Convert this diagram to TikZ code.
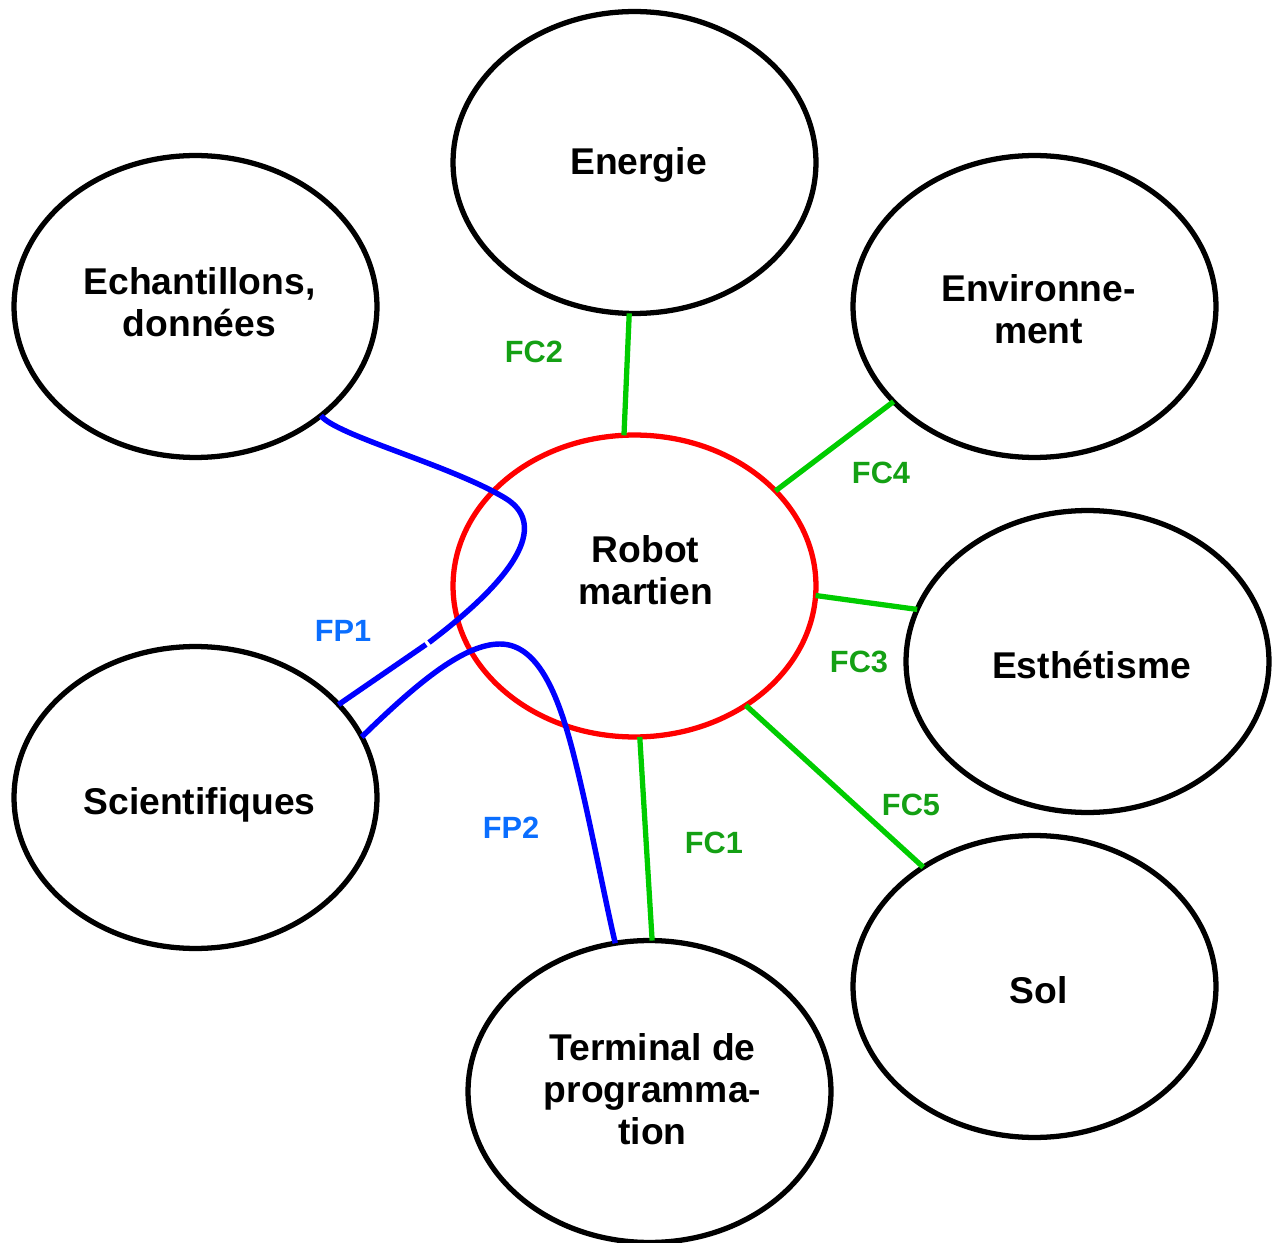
\documentclass[tikz,border=0pt]{standalone}
\usepackage{fontspec}
\setmainfont{Liberation Sans}
\usetikzlibrary{shapes.geometric}
\definecolor{lgreen}{RGB}{0,204,0}
\definecolor{tgreen}{RGB}{20,160,20}
\definecolor{tblue}{RGB}{10,110,255}
\tikzset{
  ell/.style={ellipse,draw=black,line width=3pt,minimum width=7.26cm,minimum height=6.04cm,inner sep=0pt,outer sep=0pt},
  robot/.style={ell,draw=red},
  etext/.style={align=center,font=\bfseries\fontsize{21.2}{24}\selectfont},
  fcline/.style={draw=lgreen,line width=3pt},
  fpline/.style={draw=blue,line width=3.1pt},
  fclab/.style={text=tgreen,font=\bfseries\fontsize{17.5}{20}\selectfont},
  fplab/.style={text=tblue,font=\bfseries\fontsize{17.5}{20}\selectfont}
}
\begin{document}
\begin{tikzpicture}[x=0.02cm,y=-0.02cm]
\useasboundingbox (0,0) rectangle (1275,1243);
\node[ell] (energie) at (634.5,162.5) {};
\node[ell] (echant) at (195.5,306.5) {};
\node[ell] (env) at (1034.5,306.5) {};
\node[ell] (esth) at (1087.5,661.5) {};
\node[ell] (sci) at (195.5,797.5) {};
\node[ell] (term) at (649.5,1091.5) {};
\node[ell] (sol) at (1034.5,986.5) {};
\node[robot] (robot) at (634.5,586) {};

\node[etext] (energietxt) at (638.5,164.5) {Energie};
\node[etext] (echanttxt) at (199.5,302.5) {Echantillons,\\données};
\node[etext] (envtxt) at (1038.5,309.5) {Environne-\\ment};
\node[etext] (esthtxt) at (1091.5,665.5) {Esthétisme};
\node[etext] (scitxt) at (199.5,804.5) {Scientifiques};
\node[etext] (termtxt) at (652.5,1089.5) {Terminal de\\programma-\\tion};
\node[etext] (soltxt) at (1038.5,990.5) {Sol};
\node[etext] (robottxt) at (645.5,570) {Robot\\martien};

\draw[fcline] (energie.268.3) -- (robot.94.4);
\draw[fcline] (env.214) -- (robot.34.1);
\draw[fcline] (robot.-3.8) -- (esth.163.8);
\draw[fcline] (robot.-47.1) -- (sol.133.3);
\draw[fcline] (robot.-88.7) -- (term.89.1);

\coordinate (gapA) at (429,642.5);
\coordinate (gapB) at (426,644.5);
\draw[fpline] (echant.-41) .. controls (335,435) and (450,465) .. (505,498)
  .. controls (545,522) and (525,570) .. (gapA);
\draw[fpline] (gapB) -- (sci.33.8);
\draw[fpline] (sci.20.5) .. controls (420,680) and (465,644) .. (500,644)
  .. controls (540,644) and (560,700) .. (575,760)
  .. controls (590,820) and (605,900) .. (term.103.7);

\node[fclab] (fc2) at (534,352) {FC2};
\node[fclab] (fc4) at (881,473) {FC4};
\node[fclab] (fc3) at (859,662) {FC3};
\node[fclab] (fc5) at (911,805) {FC5};
\node[fclab] (fc1) at (714,843) {FC1};
\node[fplab] (fp1) at (343,631) {FP1};
\node[fplab] (fp2) at (511,828) {FP2};
\end{tikzpicture}
\end{document}
